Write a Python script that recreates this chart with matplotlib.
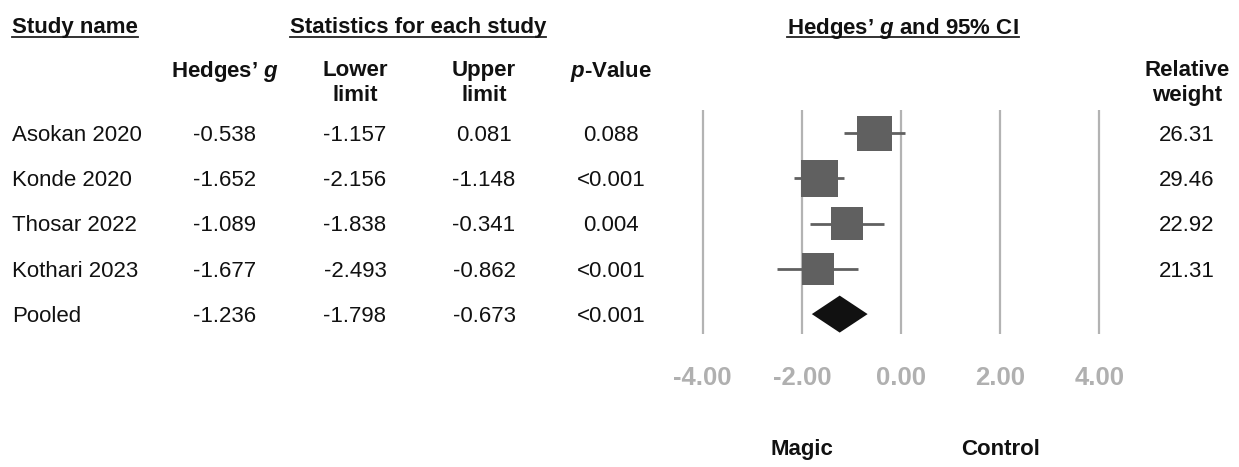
import matplotlib
matplotlib.use("Agg")
import matplotlib.pyplot as plt
from matplotlib.lines import Line2D
from matplotlib.patches import Polygon
import numpy as np

plt.rcParams["font.family"] = ["Liberation Sans", "DejaVu Sans"]
plt.rcParams["mathtext.fontset"] = "custom"
plt.rcParams["mathtext.it"] = "Liberation Sans:bold:italic"
plt.rcParams["mathtext.rm"] = "Liberation Sans:bold"

# study data
studies = ["Asokan 2020", "Konde 2020", "Thosar 2022", "Kothari 2023"]
hedges_g = [-0.538, -1.652, -1.089, -1.677]
lower = [-1.157, -2.156, -1.838, -2.493]
upper = [0.081, -1.148, -0.341, -0.862]
p_values = ["0.088", "<0.001", "0.004", "<0.001"]
weights = [26.31, 29.46, 22.92, 21.31]

pooled_g = -1.236
pooled_lower = -1.798
pooled_upper = -0.673
pooled_p = "<0.001"

x_ticks = [-4, -2, 0, 2, 4]

W, H = 1239, 467
fig = plt.figure(figsize=(W / 100, H / 100), dpi=100, facecolor="white")

def fx(px):
    return px / W

def fy(py):
    return 1 - py / H

# forest panel: 0 at x=901px, 49.6px per unit, rows at 133..314px
unit = 49.6
x0 = 901
xlim = 4.3
row_top, row_bot = 110, 334
ylim = (4.44, -0.51)
ax = fig.add_axes([fx(x0 - xlim * unit), fy(row_bot), fx(2 * xlim * unit),
                   (row_bot - row_top) / H])
ax.set_xlim(-xlim, xlim)
ax.set_ylim(*ylim)
for s in ax.spines.values():
    s.set_visible(False)
ax.set_yticks([])
ax.set_xticks(x_ticks)
ax.set_xticklabels(["%.2f" % t for t in x_ticks], fontsize=18.5, fontweight="bold",
                   color="#b0b0b0")
ax.tick_params(axis="x", length=0, pad=23)
for t in x_ticks:
    ax.axvline(t, color="#b3b3b3", lw=1.6, zorder=0)

ypx = (row_bot - row_top) / (ylim[0] - ylim[1])  # pixels per row
for i in range(len(studies)):
    ax.plot([lower[i], upper[i]], [i, i], color="#606060", lw=2.0, zorder=2,
            solid_capstyle="butt")
    side = 6.8 * np.sqrt(weights[i])
    hw = side / 2 / unit
    hh = side / 2 / ypx
    ax.add_patch(plt.Rectangle((hedges_g[i] - hw, i - hh), 2 * hw, 2 * hh,
                               facecolor="#606060", edgecolor="none", zorder=3))

pi = len(studies)
dh = 18.5 / ypx
ax.add_patch(Polygon([[pooled_lower, pi], [pooled_g, pi - dh], [pooled_upper, pi],
                      [pooled_g, pi + dh]], closed=True, facecolor="#111111",
                     edgecolor="none", zorder=3))

# side labels below the axis
for xv, lab in [(-2, "Magic"), (2, "Control")]:
    ax.annotate(lab, xy=(xv, fy(447)), xycoords=("data", "figure fraction"),
                ha="center", va="center_baseline", fontsize=16, fontweight="bold",
                color="#111111", annotation_clip=False)

# table text
txt = dict(fontsize=16, color="#111111", va="center_baseline")
hdr = dict(fontsize=16, color="#111111", fontweight="bold", va="center_baseline")

col_g, col_lo, col_hi, col_p, col_w = 225, 355, 484, 611, 1187
row_px = [133, 178, 223, 269, 314]

for i, name in enumerate(studies):
    y = fy(row_px[i])
    fig.text(fx(12), y, name, ha="left", **txt)
    fig.text(fx(col_g), y, "%.3f" % hedges_g[i], ha="center", **txt)
    fig.text(fx(col_lo), y, "%.3f" % lower[i], ha="center", **txt)
    fig.text(fx(col_hi), y, "%.3f" % upper[i], ha="center", **txt)
    fig.text(fx(col_p), y, p_values[i], ha="center", **txt)
    fig.text(fx(col_w), y, "%.2f" % weights[i], ha="center", **txt)

y = fy(row_px[-1])
fig.text(fx(12), y, "Pooled", ha="left", **txt)
fig.text(fx(col_g), y, "%.3f" % pooled_g, ha="center", **txt)
fig.text(fx(col_lo), y, "%.3f" % pooled_lower, ha="center", **txt)
fig.text(fx(col_hi), y, "%.3f" % pooled_upper, ha="center", **txt)
fig.text(fx(col_p), y, pooled_p, ha="center", **txt)

# column headers
fig.text(fx(col_g), fy(68), "Hedges\u2019 $g$", ha="center", **hdr)
fig.text(fx(col_lo), fy(68), "Lower", ha="center", **hdr)
fig.text(fx(col_lo), fy(93), "limit", ha="center", **hdr)
fig.text(fx(col_hi), fy(68), "Upper", ha="center", **hdr)
fig.text(fx(col_hi), fy(93), "limit", ha="center", **hdr)
fig.text(fx(col_p), fy(68), "$p$-Value", ha="center", **hdr)
fig.text(fx(col_w), fy(68), "Relative", ha="center", **hdr)
fig.text(fx(col_w), fy(93), "weight", ha="center", **hdr)

# underlined section titles
titles = [
    fig.text(fx(12), fy(25), "Study name", ha="left", **hdr),
    fig.text(fx(290), fy(25), "Statistics for each study", ha="left", **hdr),
    fig.text(fx(x0 + 2), fy(25), "Hedges\u2019 $g$ and 95% CI", ha="center", **hdr),
]
renderer = fig.canvas.get_renderer()
for t in titles:
    bb = t.get_window_extent(renderer)
    fig.add_artist(Line2D([bb.x0 / W, bb.x1 / W], [fy(37), fy(37)],
                          transform=fig.transFigure, color="#222222", lw=1.3))

fig.savefig("out.png", dpi=100, facecolor="white")
